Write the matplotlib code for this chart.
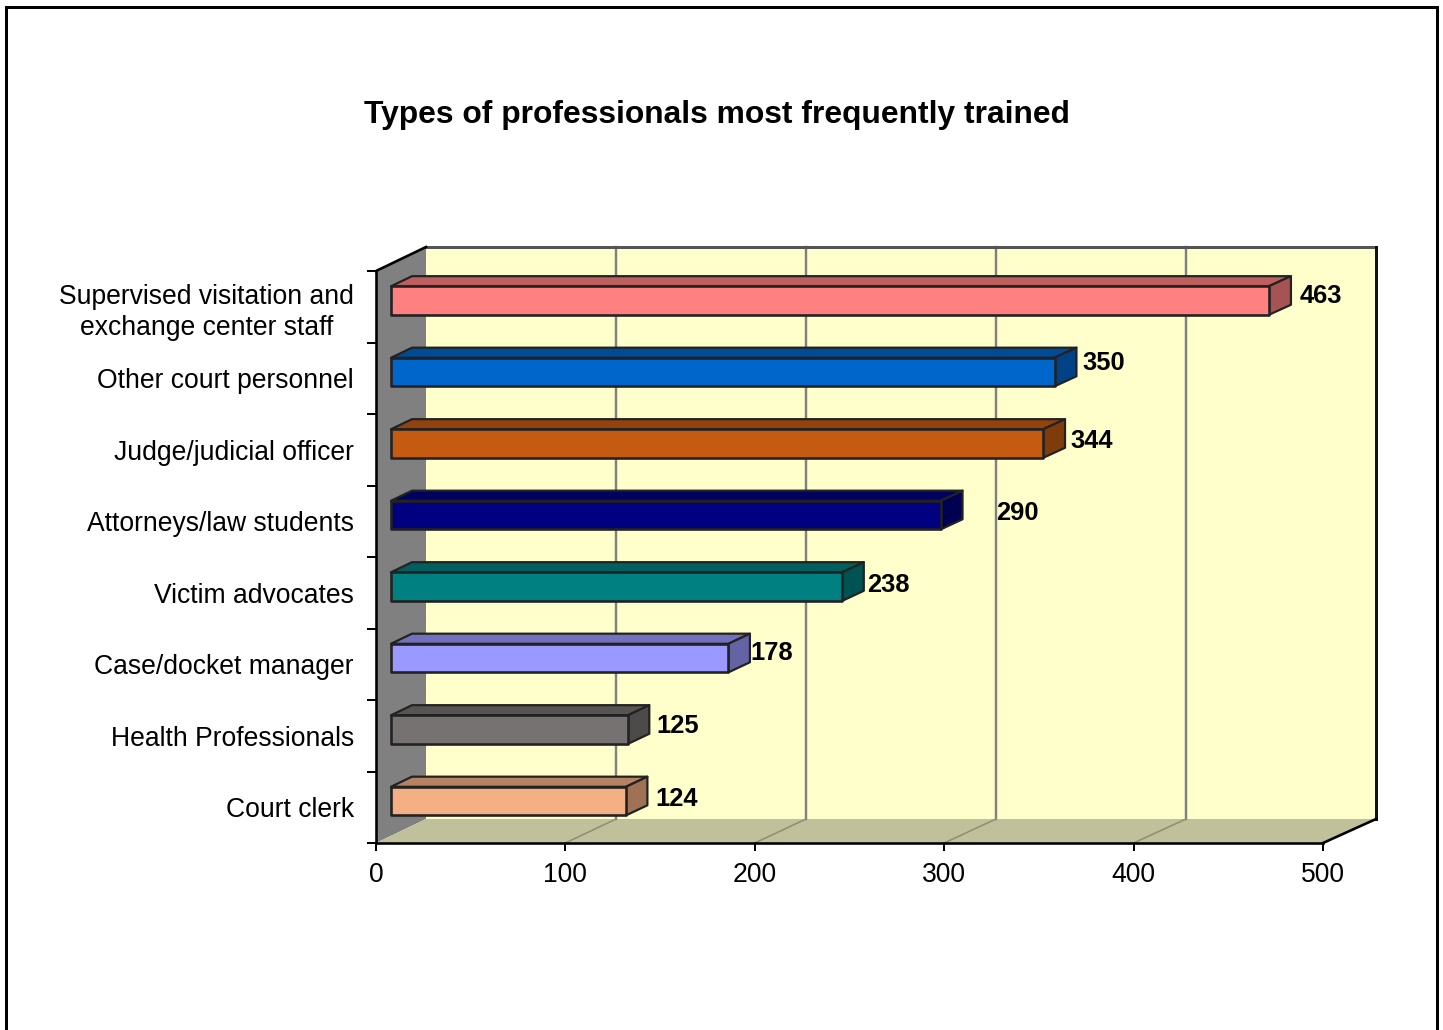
import matplotlib
matplotlib.use("Agg")
import matplotlib.pyplot as plt
from matplotlib.patches import Polygon, Rectangle

# ---- data ----
title = "Types of professionals most frequently trained"
categories = ["Supervised visitation and\nexchange center staff", "Other court personnel",
              "Judge/judicial officer", "Attorneys/law students", "Victim advocates",
              "Case/docket manager", "Health Professionals", "Court clerk"]
values = [463, 350, 344, 290, 238, 178, 125, 124]
bar_colors = ["#FF8080", "#0066CC", "#C55A11", "#000080", "#008080", "#9999FF", "#777272", "#F4B084"]
x_ticks = [0, 100, 200, 300, 400, 500]
# hand-placed label shifts in the source chart, in pixels (right of bar end, up from default)
label_dx = [9, 6, 5, 34, 3, 0, 7, 8]
label_dy = [5, 10, 3, 3, 2, 6, 4, 3]

# ---- geometry ----
W, H = 1443, 1030
plt.rcParams["font.family"] = ["Liberation Sans", "DejaVu Sans"]
fig = plt.figure(figsize=(W / 100, H / 100), dpi=100, facecolor="white")
px = 0.72  # points per pixel
L, R, T, B = 376, 1323, 271, 843
ax = fig.add_axes([L / W, 1 - B / H, (R - L) / W, (B - T) / H])
ax.set_xlim(0, 500)
ax.set_ylim(len(categories), 0)
ax.patch.set_visible(False)
unit_x = (R - L) / 500
unit_y = (B - T) / len(categories)
DX = 50 / unit_x          # full depth, in x data units
DY = -24 / unit_y         # full depth, in category units
STRETCH = 0.0032          # back plane is very slightly wider


def P(v, c, d=0.0):
    return (v * (1 + STRETCH * d) + d * DX, c + d * DY)


def poly(pts, fc, ec="none", lw=0, z=1):
    ax.add_patch(Polygon(pts, closed=True, facecolor=fc, edgecolor=ec, linewidth=lw,
                         zorder=z, clip_on=False, joinstyle="round"))


n = len(categories)
# walls and floor
poly([P(0, 0, 1), P(500, 0, 1), P(500, n, 1), P(0, n, 1)], "#FFFFCC", z=1)
poly([P(0, 0), P(0, 0, 1), P(0, n, 1), P(0, n)], "#808080", z=1.5)
poly([P(0, n), P(0, n, 1), P(500, n, 1), P(500, n)], "#C0C09A", z=1.5)

# gridlines on back wall and floor
for t in x_ticks[1:-1]:
    ax.plot(*zip(P(t, 0, 1), P(t, n, 1)), color="#808080", lw=2.4 * px, zorder=2, clip_on=False)
    ax.plot(*zip(P(t, n), P(t, n, 1)), color="#8F8F78", lw=1.6 * px, zorder=2, clip_on=False)
# wall outlines
ax.plot(*zip(P(0, 0, 1), P(500, 0, 1)), color="#555555", lw=3 * px, zorder=2.5, clip_on=False)
ax.plot(*zip(P(500, 0, 1), P(500, n, 1)), color="#111111", lw=3 * px, zorder=2.5, clip_on=False)
ax.plot(*zip(P(0, 0), P(0, 0, 1)), color="black", lw=2.6 * px, zorder=2.5, clip_on=False)
ax.plot(*zip(P(500, n), P(500, n, 1)), color="black", lw=2.6 * px, zorder=2.5, clip_on=False)


def shade(c, f):
    r, g, b = matplotlib.colors.to_rgb(c)
    return (r * f, g * f, b * f)


# 3-D bars
d0, d1 = 0.30, 0.72
half = 0.20
nudge = 0.014
for i, (v, col) in enumerate(zip(values, bar_colors)):
    c = i + 0.5 + nudge
    ec = "#222222"
    poly([P(0, c - half, d0), P(0, c - half, d1), P(v, c - half, d1), P(v, c - half, d0)],
         shade(col, 0.74), ec, 2.2 * px, z=3)
    poly([P(v, c - half, d0), P(v, c - half, d1), P(v, c + half, d1), P(v, c + half, d0)],
         shade(col, 0.65), ec, 2.2 * px, z=3)
    poly([P(0, c - half, d0), P(v, c - half, d0), P(v, c + half, d0), P(0, c + half, d0)],
         col, ec, 2.6 * px, z=3.2)
    ax.annotate(str(v), xy=P(v, i + 0.5, d1), xytext=(label_dx[i] * px, (label_dy[i] - 12) * px),
                textcoords="offset points", ha="left", va="center",
                fontsize=25.5 * px, fontweight="bold", color="black", zorder=5,
                annotation_clip=False)

# axes
for s in ("top", "right"):
    ax.spines[s].set_visible(False)
for s in ("left", "bottom"):
    ax.spines[s].set_linewidth(2.6 * px)
    ax.spines[s].set_color("black")
    ax.spines[s].set_zorder(4)
ax.set_xticks(x_ticks)
ax.set_xticklabels([str(t) for t in x_ticks], fontsize=26.5 * px)
ax.tick_params(axis="x", length=8 * px, width=2 * px, pad=11 * px)
ax.set_yticks(range(n + 1))
ax.set_yticklabels([""] * (n + 1))
ax.tick_params(axis="y", which="major", length=9 * px, width=2 * px)
ax.set_yticks([i + 0.5 for i in range(n)], minor=True)
ax.set_yticklabels(categories, minor=True, fontsize=26.5 * px, multialignment="center", linespacing=1.24)
ax.tick_params(axis="y", which="minor", length=0, pad=22 * px)

fig.suptitle(title, x=717 / W, y=1 - 115 / H, ha="center", va="center",
             fontsize=31.8 * px, fontweight="bold")

# outer frame
fig.add_artist(Rectangle((6 / W, -0.05), (1437 - 6) / W, 1.05 - 7 / H, transform=fig.transFigure,
                         facecolor="none", edgecolor="black", linewidth=3 * px))

fig.savefig("out.png", dpi=100)
